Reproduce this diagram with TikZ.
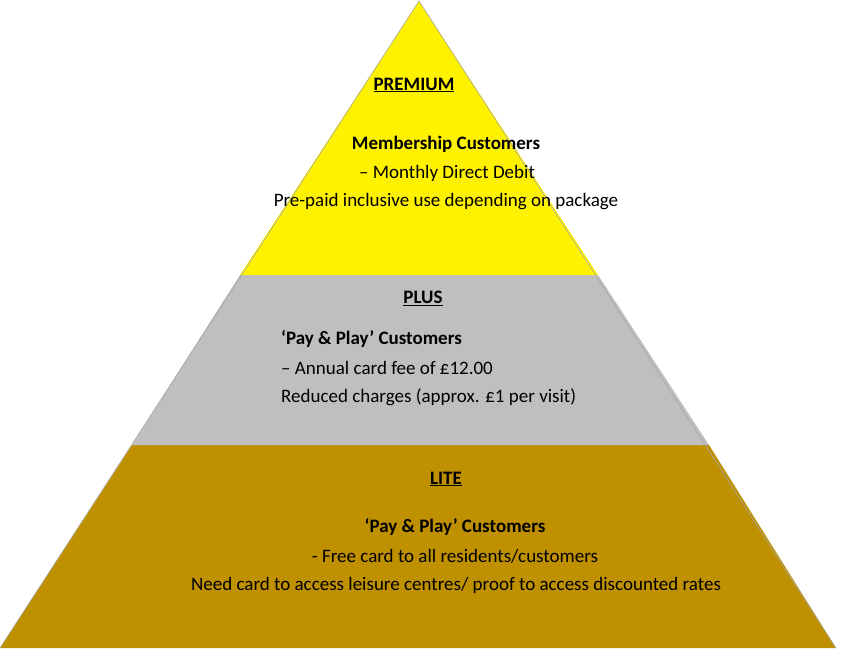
\documentclass[tikz,border=0pt]{standalone}
\usepackage{fontspec}
\setmainfont{Carlito}
\begin{document}
\begin{tikzpicture}[x=1pt,y=-1pt,
  txt/.style={font=\fontsize{19}{22}\selectfont,inner sep=0pt,anchor=center},
  ltxt/.style={font=\fontsize{19}{22}\selectfont,inner sep=0pt,anchor=west}]
\useasboundingbox (0,0) rectangle (844,651);
\definecolor{gold}{HTML}{BF9000}
\fill[gold] (0,648) -- (132,445) -- (709,445) -- (836,648) -- cycle;
\fill[black!25] (132,445) -- (240,275) -- (598,275) -- (709,445) -- cycle;
\fill[yellow] (240,275) -- (419,1) -- (598,275) -- cycle;
\draw[black!35,line width=0.6] (0,648) -- (419,1) -- (836,648);
\node[txt] (p1) at (414,85) {\textbf{\underline{PREMIUM}}};
\node[txt] (p2) at (446,144) {\textbf{Membership Customers}};
\node[txt] (p3) at (447,173) {– Monthly Direct Debit};
\node[txt] (p4) at (446,202) {Pre-paid inclusive use depending on package};
\node[txt] (q1) at (423,298) {\textbf{\underline{PLUS}}};
\node[ltxt] (q2) at (281,339) {\textbf{‘Pay \& Play’ Customers}};
\node[ltxt] (q3) at (281,368) {– Annual card fee of £12.00};
\node[ltxt] (q4) at (281,397) {Reduced charges (approx. £1 per visit)};
\node[txt] (l1) at (446,479) {\textbf{\underline{LITE}}};
\node[txt] (l2) at (455,527) {\textbf{‘Pay \& Play’ Customers}};
\node[txt] (l3) at (455,556) {- Free card to all residents/customers};
\node[txt] (l4) at (456,585) {Need card to access leisure centres/ proof to access discounted rates};
\end{tikzpicture}
\end{document}
